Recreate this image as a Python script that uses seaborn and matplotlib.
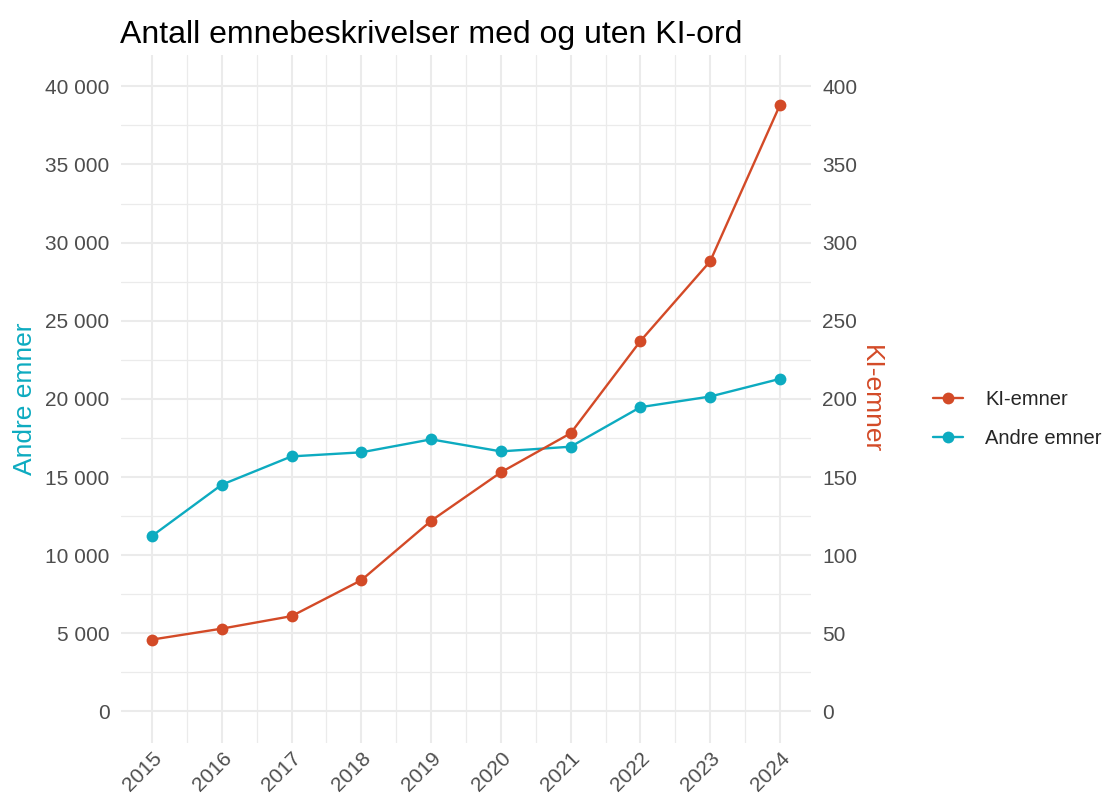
import pandas as pd
import matplotlib
matplotlib.use("Agg")
import matplotlib.pyplot as plt
import seaborn as sns
from matplotlib.ticker import FuncFormatter, MultipleLocator
from matplotlib.lines import Line2D

# Data
aar = [2015, 2016, 2017, 2018, 2019, 2020, 2021, 2022, 2023, 2024]
andre_emner = [11230, 14510, 16320, 16580, 17410, 16640, 16940, 19470, 20150, 21280]
ki_emner = [46, 53, 61, 84, 122, 153, 178, 237, 288, 388]

farge_ki = "#D34A27"
farge_andre = "#0DABC0"

df = pd.DataFrame({"aar": aar, "andre": andre_emner, "ki": ki_emner})

sns.set_theme(style="white")
plt.rcParams['font.family'] = ['Liberation Sans', 'DejaVu Sans']

fig = plt.figure(figsize=(11.14, 8.02), dpi=100)
ax = fig.add_axes([0.1083, 0.0739, 0.620, 0.8575])
ax2 = ax.twinx()

sns.lineplot(data=df, x="aar", y="andre", ax=ax, color=farge_andre, marker="o",
             markersize=8.5, markeredgewidth=0, linewidth=1.7)
sns.lineplot(data=df, x="aar", y="ki", ax=ax2, color=farge_ki, marker="o",
             markersize=8.5, markeredgewidth=0, linewidth=1.7)

ax.set_xlim(2014.55, 2024.45)
ax.set_ylim(-2000, 42000)
ax2.set_ylim(-20, 420)

ax.set_xticks(aar)
ax.set_xticklabels([str(a) for a in aar], rotation=45, ha="right", rotation_mode="anchor")
ax.xaxis.set_minor_locator(MultipleLocator(0.5))
ax.yaxis.set_major_locator(MultipleLocator(5000))
ax.yaxis.set_minor_locator(MultipleLocator(2500))
ax2.yaxis.set_major_locator(MultipleLocator(50))

fmt = FuncFormatter(lambda v, p: f"{int(v):,}".replace(",", " "))
ax.yaxis.set_major_formatter(fmt)

ax.grid(which="major", color="#EBEBEB", linewidth=1.5)
ax.grid(which="minor", color="#EBEBEB", linewidth=0.9)
ax.set_axisbelow(True)
ax2.grid(False)

for a in (ax, ax2):
    for s in a.spines.values():
        s.set_visible(False)
    a.tick_params(axis="both", which="both", length=0, labelsize=15, colors="#4D4D4D")
ax.tick_params(axis="y", pad=8)
ax.tick_params(axis="x", pad=4)
ax2.tick_params(axis="y", pad=8)

ax.set_xlabel("")
ax.set_ylabel("Andre emner", color=farge_andre, fontsize=19, labelpad=6)
ax2.set_ylabel("KI-emner", color=farge_ki, fontsize=19, rotation=270, labelpad=18)

fig.text(0.108, 0.975, "Antall emnebeskrivelser med og uten KI-ord", fontsize=23,
         ha="left", va="top", color="black")

handles = [
    Line2D([], [], color=farge_ki, marker="o", markersize=8.5, markeredgewidth=0, linewidth=1.7),
    Line2D([], [], color=farge_andre, marker="o", markersize=8.5, markeredgewidth=0, linewidth=1.7),
]
fig.legend(handles, ["KI-emner", "Andre emner"], loc="center left",
           bbox_to_anchor=(0.821, 0.478), frameon=False, fontsize=14.5,
           handlelength=1.5, handletextpad=1.1, labelspacing=1.0)

fig.savefig("out.png", dpi=100)
